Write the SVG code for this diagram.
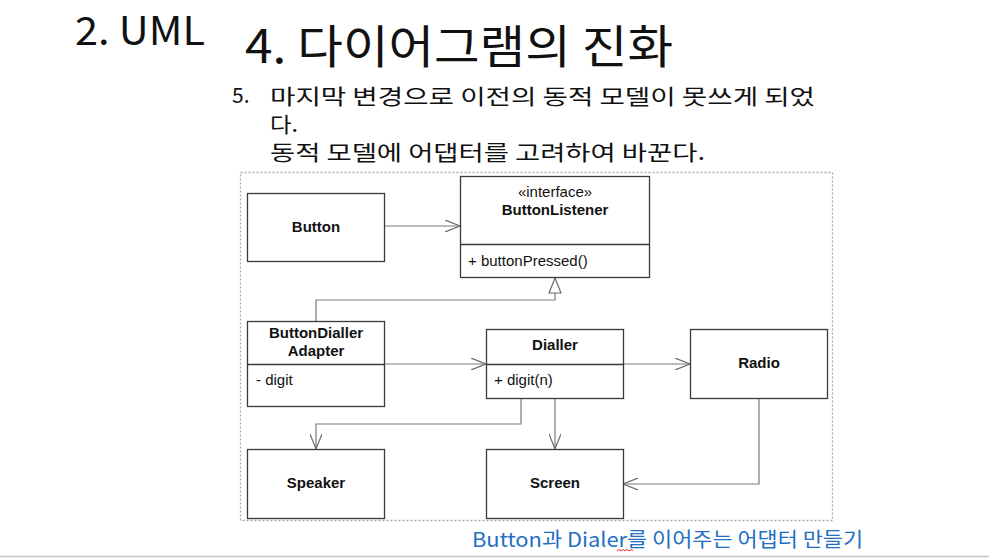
<svg xmlns="http://www.w3.org/2000/svg" width="989" height="558" viewBox="0 0 989 558">
<style>
.box{fill:#fff;stroke:#3a3a3a;stroke-width:1.3}
.div{stroke:#3a3a3a;stroke-width:1.3}
.b{font-family:"Liberation Sans",Arial,sans-serif;font-size:15px;font-weight:bold;fill:#111;text-anchor:middle}
.n{font-family:"Liberation Sans",Arial,sans-serif;font-size:15px;font-weight:normal;fill:#111;text-anchor:middle}
.r{font-family:"Liberation Sans",Arial,sans-serif;font-size:15px;fill:#111}
.c{fill:none;stroke:#7a7a7a;stroke-width:1.2}
.k{font-family:"Noto Sans CJK KR","Malgun Gothic",sans-serif;fill:#111}
</style>
<defs>
<marker id="open" viewBox="0 0 16 12" refX="15" refY="6" markerWidth="16" markerHeight="12" markerUnits="userSpaceOnUse" orient="auto">
<path d="M0,0 L15,6 L0,12" fill="none" stroke="#6a6a6a" stroke-width="1.2"/>
</marker>
<marker id="tri" viewBox="0 0 18 14" refX="16" refY="7" markerWidth="18" markerHeight="14" markerUnits="userSpaceOnUse" orient="auto">
<path d="M1,1 L16,7 L1,13 Z" fill="#fff" stroke="#6a6a6a" stroke-width="1.2"/>
</marker>
</defs>
<rect width="989" height="558" fill="#fff"/>
<line x1="0" y1="556.5" x2="989" y2="556.5" stroke="#c8c8c8" stroke-width="1.5"/>
<g id="titles">
<text class="k" x="75" y="45" font-size="39" textLength="130" lengthAdjust="spacingAndGlyphs">2. UML</text>
<text class="k" x="245" y="63" font-size="46" textLength="428" lengthAdjust="spacingAndGlyphs">4. 다이어그램의 진화</text>
<text class="k" x="232" y="103" font-size="21">5.</text>
<text class="k" x="270" y="104" font-size="21" textLength="545" lengthAdjust="spacingAndGlyphs">마지막 변경으로 이전의 동적 모델이 못쓰게 되었</text>
<text class="k" x="270" y="132" font-size="21" textLength="28" lengthAdjust="spacingAndGlyphs">다.</text>
<text class="k" x="270" y="160" font-size="21" textLength="435" lengthAdjust="spacingAndGlyphs">동적 모델에 어댑터를 고려하여 바꾼다.</text>
</g>
<rect id="frame" x="240.5" y="172.5" width="592" height="348" fill="none" stroke="#aaa" stroke-width="1.3" stroke-dasharray="2,2"/>
<g id="connectors">
<path class="c" d="M384,226 H460" marker-end="url(#open)"/>
<path class="c" d="M316,321 V300 H555 V278" marker-end="url(#tri)"/>
<path class="c" d="M384,364 H486" marker-end="url(#open)"/>
<path class="c" d="M623,364 H690" marker-end="url(#open)"/>
<path class="c" d="M521,398 V424 H316 V449" marker-end="url(#open)"/>
<path class="c" d="M555,398 V449" marker-end="url(#open)"/>
<path class="c" d="M759,398 V484 H623" marker-end="url(#open)"/>
</g>
<g id="Button">
<rect class="box" x="247.5" y="193.5" width="137" height="68"/>
<text class="b" x="316" y="232">Button</text>
</g>
<g id="ButtonListener">
<rect class="box" x="460.5" y="176.5" width="189" height="101"/>
<line class="div" x1="460.5" y1="244.5" x2="649.5" y2="244.5"/>
<text class="n" x="555" y="197">«interface»</text>
<text class="b" x="555" y="215">ButtonListener</text>
<text class="r" x="468" y="266">+ buttonPressed()</text>
</g>
<g id="ButtonDiallerAdapter">
<rect class="box" x="247.5" y="321.5" width="137" height="85"/>
<line class="div" x1="247.5" y1="364.5" x2="384.5" y2="364.5"/>
<text class="b" x="316" y="338">ButtonDialler</text>
<text class="b" x="316" y="356">Adapter</text>
<text class="r" x="256" y="385">- digit</text>
</g>
<g id="Dialler">
<rect class="box" x="486.5" y="329.5" width="137" height="69"/>
<line class="div" x1="486.5" y1="364.5" x2="623.5" y2="364.5"/>
<text class="b" x="555" y="350">Dialler</text>
<text class="r" x="494" y="385">+ digit(n)</text>
</g>
<g id="Radio">
<rect class="box" x="690.5" y="329.5" width="137" height="69"/>
<text class="b" x="759" y="368">Radio</text>
</g>
<g id="Speaker">
<rect class="box" x="247.5" y="449.5" width="137" height="69"/>
<text class="b" x="316" y="488">Speaker</text>
</g>
<g id="Screen">
<rect class="box" x="486.5" y="449.5" width="137" height="69"/>
<text class="b" x="555" y="488">Screen</text>
</g>
<g id="caption">
<text x="472" y="547" font-family="Noto Sans CJK KR,sans-serif" font-size="20" fill="#1f6fc5" textLength="391" lengthAdjust="spacingAndGlyphs">Button과 Dialer를 이어주는 어댑터 만들기</text>
<path d="M617,551 l2,-1.5 l2,1.5 l2,-1.5 l2,1.5 l2,-1.5 l2,1.5 l2,-1.5 l2,1.5" fill="none" stroke="#e03030" stroke-width="1"/>
</g>
</svg>
